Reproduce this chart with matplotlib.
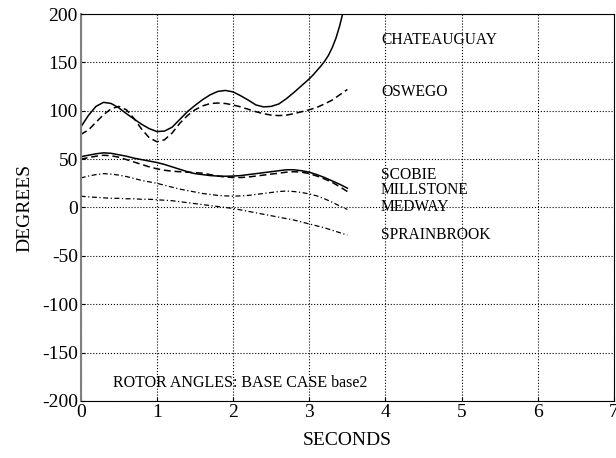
import numpy as np
import matplotlib.pyplot as plt

plt.rcParams['font.family'] = ['Liberation Serif', 'DejaVu Serif']
plt.rcParams['axes.unicode_minus'] = False

# time axis (seconds) and rotor angles (degrees)
t = [0.0, 0.1, 0.2, 0.3, 0.4, 0.5, 0.6, 0.7, 0.8, 0.9,
     1.0, 1.1, 1.2, 1.3, 1.4, 1.5, 1.6, 1.7, 1.8, 1.9,
     2.0, 2.1, 2.2, 2.3, 2.4, 2.5, 2.6, 2.7, 2.8, 2.9,
     3.0, 3.1, 3.2, 3.3, 3.4, 3.5]

# chateauguay runs off the top, sampled a bit finer near the end
t_ch = [0.0, 0.1, 0.2, 0.3, 0.4, 0.5, 0.6, 0.7, 0.8, 0.9,
        1.0, 1.1, 1.2, 1.3, 1.4, 1.5, 1.6, 1.7, 1.8, 1.9,
        2.0, 2.1, 2.2, 2.3, 2.4, 2.5, 2.6, 2.7, 2.8, 2.9,
        3.0, 3.05, 3.1, 3.15, 3.2, 3.25, 3.3, 3.35, 3.4, 3.45, 3.5]
chateauguay = [83, 95, 104.5, 108.7, 107.5, 103, 97, 91.5, 86, 81.5,
               78.5, 79, 83, 91, 99, 105.5, 111.5, 116.5, 120, 121,
               119.5, 115.5, 111, 106, 104, 104.5, 107, 112.5, 119, 126,
               133, 137, 141.5, 146, 151, 157, 165, 175, 188, 204, 222]
oswego = [75.5, 80, 88, 96, 102, 104.5, 101, 92, 81, 72,
          68, 70, 77, 87, 95, 101, 105, 107.5, 108, 107.5,
          106, 104, 101.5, 99, 97, 95.5, 95, 95.5, 97, 99,
          101, 103.5, 107, 111, 116.5, 122]
scobie = [52.5, 54, 55.5, 56.5, 56, 54.5, 53, 51, 49.5, 48,
          46.5, 44.5, 42, 39.5, 37, 35, 34, 33, 32.5, 32.3,
          32.5, 33, 34, 35, 36, 37, 38, 39, 39, 38,
          36.5, 34, 31, 27.5, 24, 20]
millstone = [50, 51.5, 53, 54, 53.5, 52, 49.5, 47, 44.5, 42,
             40, 38.5, 37.5, 37, 36.5, 36, 35.5, 34, 32.5, 31.5,
             31, 31, 31.5, 32.5, 33.5, 34.5, 35.5, 36.5, 37, 36.5,
             35, 32.5, 29.5, 26, 21.5, 16.5]
medway = [30.5, 32.5, 34, 35, 34.5, 33.5, 32, 30, 28, 26.5,
          25, 23, 21, 19, 17.5, 16, 14.5, 13.5, 12.5, 12,
          11.7, 12, 12.5, 13.5, 14.5, 15.5, 16.5, 17, 16.5, 15.5,
          14, 12, 9, 5.5, 1.5, -2]
sprainbrook = [11.7, 11, 10.5, 10, 9.5, 9.5, 9, 9, 8.5, 8.5,
               8, 7.5, 7, 6, 5, 4, 3, 2, 1, 0,
               -1, -2.5, -4, -5.5, -7, -8.5, -10, -11.5, -13, -15,
               -17, -19, -21, -23.5, -26, -28.5]

names = ['CHATEAUGUAY', 'OSWEGO', 'SCOBIE', 'MILLSTONE', 'MEDWAY', 'SPRAINBROOK']
label_y = [173, 119.5, 33.5, 18, 0.5, -28.5]

fig = plt.figure(figsize=(6.16, 4.58), dpi=100)
ax = fig.add_axes([0.131, 0.1245, 0.8658, 0.8449])

ax.plot(t_ch, chateauguay, color='k', lw=1.1)
ax.plot(t, oswego, color='k', lw=1.1, dashes=(4.5, 2.5))
ax.plot(t, scobie, color='k', lw=1.1)
ax.plot(t, millstone, color='k', lw=1.1, dashes=(4.5, 2.5))
ax.plot(t, medway, color='k', lw=0.9, dashes=(4, 2, 1, 2))
ax.plot(t, sprainbrook, color='k', lw=0.9, dashes=(4, 2, 1, 2))

for name, y in zip(names, label_y):
    ax.text(3.94, y, name, fontsize=11.2, va='center', ha='left')

ax.text(0.42, -181.5, 'ROTOR ANGLES: BASE CASE base2', fontsize=11.5, va='center', ha='left')

ax.set_xlim(0, 7)
ax.set_ylim(-200, 200)
ax.set_xticks(range(0, 8))
ax.set_yticks(range(-200, 201, 50))
ax.grid(True, color='k', linestyle=':', lw=0.8)
ax.tick_params(direction='in', length=3, labelsize=14, pad=2)
ax.spines['left'].set_color('0.5')
ax.spines['left'].set_linewidth(1.5)

ax.set_xlabel('SECONDS', fontsize=14, labelpad=8)
ax.set_ylabel('DEGREES', fontsize=14, labelpad=6)

fig.savefig('out.png', dpi=100)
